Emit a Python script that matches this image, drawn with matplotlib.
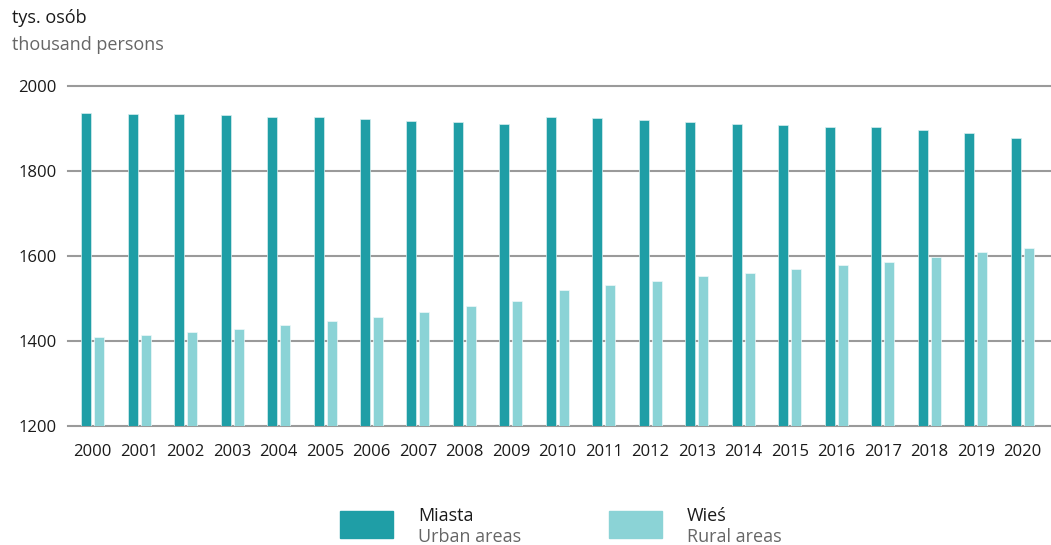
import matplotlib
matplotlib.use("Agg")
import matplotlib.pyplot as plt
import numpy as np

plt.rcParams['font.family'] = ['Open Sans', 'DejaVu Sans']

years = [str(y) for y in range(2000, 2021)]
urban = [1935, 1934, 1933, 1930, 1927, 1926, 1921, 1918, 1915, 1911, 1927,
         1923, 1919, 1914, 1911, 1907, 1903, 1903, 1896, 1889, 1876]
rural = [1409, 1415, 1421, 1429, 1437, 1446, 1456, 1469, 1482, 1495, 1519,
         1531, 1542, 1552, 1560, 1568, 1578, 1585, 1597, 1609, 1619]

dark = '#1f9ea6'
light = '#8bd3d6'
grid_col = '#9a9a9a'

fig = plt.figure(figsize=(10.51, 5.45), dpi=100)
ax = fig.add_axes([68 / 1051, 1 - 426 / 545, 1 - 68 / 1051, (426 - 85.7) / 545])

x = np.arange(len(years))
w = 0.215
off = 0.14
ax.bar(x - off, np.array(urban) - 1200, w, bottom=1200, color=dark,
       edgecolor='#d8eff0', linewidth=0.5, zorder=3)
ax.bar(x + off, np.array(rural) - 1200, w, bottom=1200, color=light,
       edgecolor='#eef9f9', linewidth=0.5, zorder=3)

ax.set_ylim(1200, 2000)
ax.set_xlim(-0.53, 20.62)
ax.set_yticks([1200, 1400, 1600, 1800, 2000])
ax.set_xticks(x)
ax.set_xticklabels(years)
for y in [1200, 1400, 1600, 1800, 2000]:
    ax.axhline(y, color=grid_col, linewidth=1.5, zorder=1, clip_on=False)
for s in ax.spines.values():
    s.set_visible(False)
ax.tick_params(axis='both', length=0, labelsize=12, colors='#1a1a1a')
ax.tick_params(axis='y', pad=8)
ax.tick_params(axis='x', pad=13)

# unit header
fig.text(12 / 1051, 1 - 18 / 545, 'tys. osób', fontsize=13, color='#1a1a1a',
         va='center', ha='left')
fig.text(12 / 1051, 1 - 45 / 545, 'thousand persons', fontsize=13, color='#666666',
         va='center', ha='left')

# legend
for sx, col, pl, en in [(340, dark, 'Miasta', 'Urban areas'),
                        (609, light, 'Wieś', 'Rural areas')]:
    fig.patches.append(plt.Rectangle((sx / 1051, 1 - 538 / 545), 53 / 1051, 27 / 545,
                                     transform=fig.transFigure, color=col))
    fig.text((sx + 78) / 1051, 1 - 516 / 545, pl, fontsize=13, color='#1a1a1a',
             va='center', ha='left')
    fig.text((sx + 78) / 1051, 1 - 537 / 545, en, fontsize=13, color='#666666',
             va='center', ha='left')

fig.savefig('out.png', dpi=100)
